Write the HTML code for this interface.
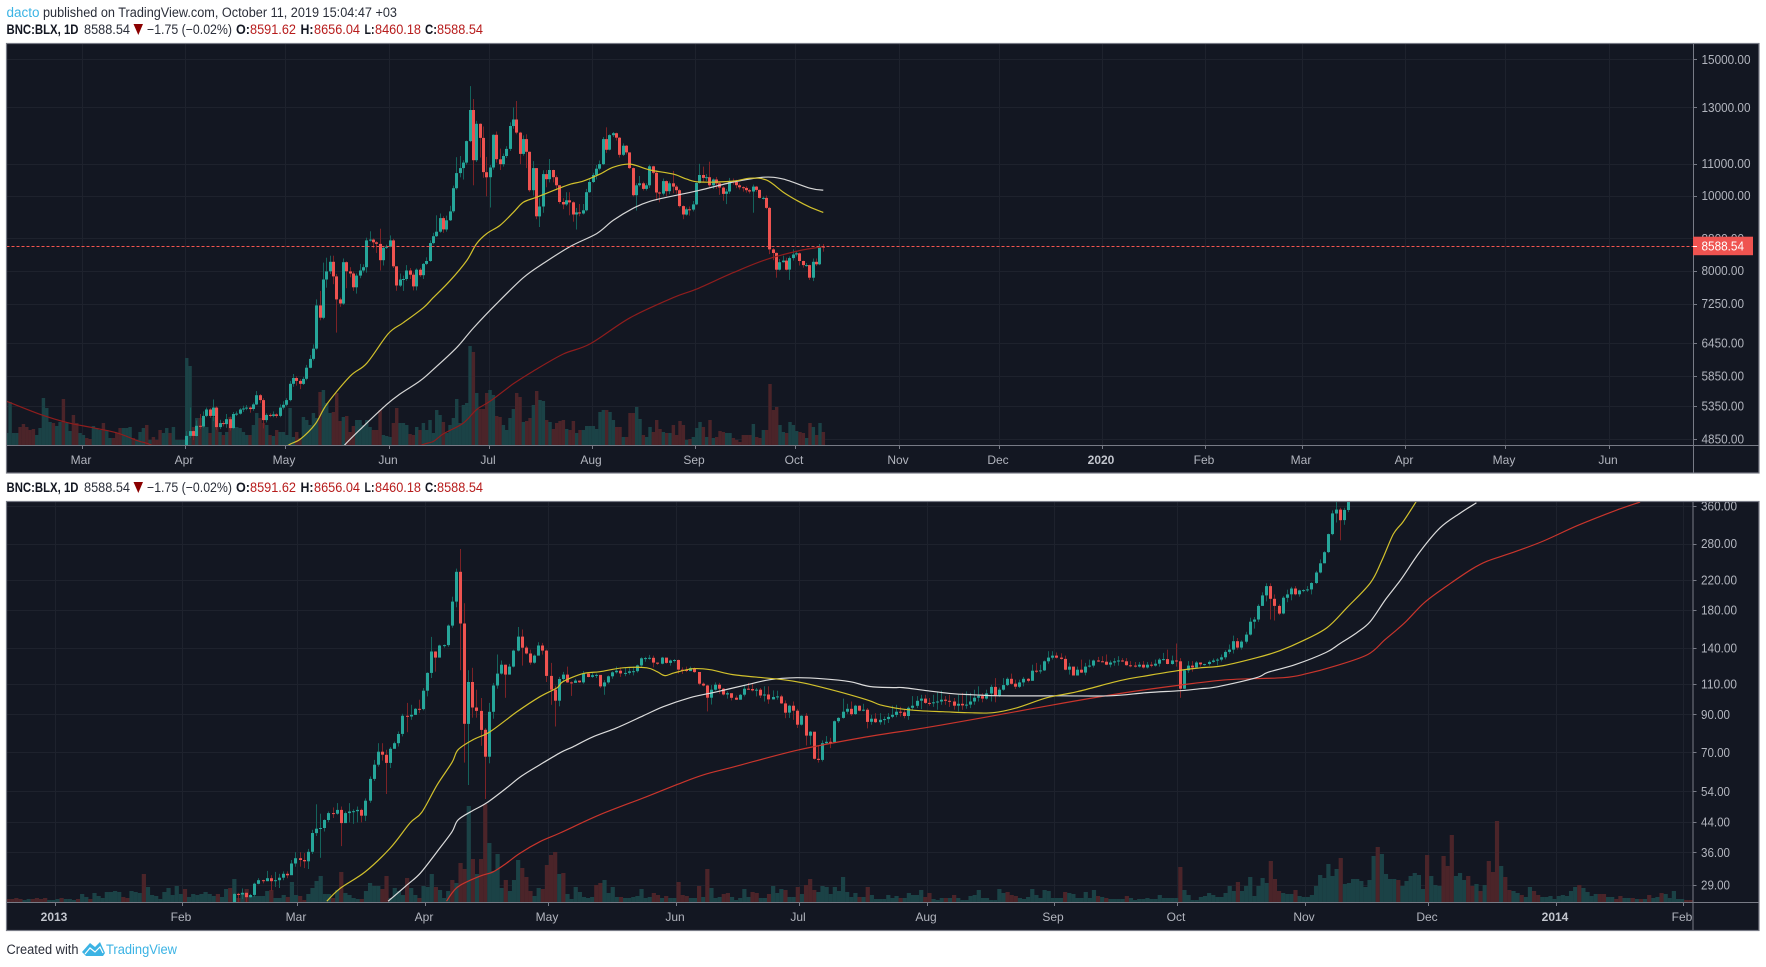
<!DOCTYPE html>
<html lang="en">
<head>
<meta charset="utf-8">
<title>BNC:BLX chart by dacto</title>
<style>
html,body{margin:0;padding:0;background:#fff;width:1766px;height:967px;overflow:hidden}
svg{display:block;font-family:"Liberation Sans",sans-serif}
</style>
</head>
<body>
<svg id="page" xmlns="http://www.w3.org/2000/svg" width="1766" height="967" viewBox="0 0 1766 967">
  <rect x="0" y="0" width="1766" height="967" fill="#ffffff"/>
  <g font-size="13.5">
    <text x="6.5" y="17" fill="#3bb3e4" textLength="33" lengthAdjust="spacingAndGlyphs">dacto</text>
    <text x="43" y="17" fill="#2a2e39" textLength="354" lengthAdjust="spacingAndGlyphs">published on TradingView.com, October 11, 2019 15:04:47 +03</text>
  </g>
  <g font-size="13.5">
    <text x="6.5" y="34" font-weight="bold" fill="#131722" textLength="72" lengthAdjust="spacingAndGlyphs">BNC:BLX, 1D</text>
    <text x="84" y="34" fill="#2a2e39" textLength="46" lengthAdjust="spacingAndGlyphs">8588.54</text>
    <polygon points="133.5,24 143,24 138.3,35" fill="#8b0000"/>
    <text x="147" y="34" fill="#2a2e39" textLength="85" lengthAdjust="spacingAndGlyphs">−1.75 (−0.02%)</text>
    <text x="236" y="34" font-weight="bold" fill="#131722" textLength="14" lengthAdjust="spacingAndGlyphs">O:</text>
    <text x="250" y="34" fill="#b71c1c" textLength="46" lengthAdjust="spacingAndGlyphs">8591.62</text>
    <text x="300.5" y="34" font-weight="bold" fill="#131722" textLength="13" lengthAdjust="spacingAndGlyphs">H:</text>
    <text x="314" y="34" fill="#b71c1c" textLength="46" lengthAdjust="spacingAndGlyphs">8656.04</text>
    <text x="364.5" y="34" font-weight="bold" fill="#131722" textLength="10" lengthAdjust="spacingAndGlyphs">L:</text>
    <text x="375" y="34" fill="#b71c1c" textLength="46" lengthAdjust="spacingAndGlyphs">8460.18</text>
    <text x="425" y="34" font-weight="bold" fill="#131722" textLength="12" lengthAdjust="spacingAndGlyphs">C:</text>
    <text x="437" y="34" fill="#b71c1c" textLength="46" lengthAdjust="spacingAndGlyphs">8588.54</text>
  </g>
  <g font-size="13.5">
    <text x="6.5" y="492" font-weight="bold" fill="#131722" textLength="72" lengthAdjust="spacingAndGlyphs">BNC:BLX, 1D</text>
    <text x="84" y="492" fill="#2a2e39" textLength="46" lengthAdjust="spacingAndGlyphs">8588.54</text>
    <polygon points="133.5,482 143,482 138.3,493" fill="#8b0000"/>
    <text x="147" y="492" fill="#2a2e39" textLength="85" lengthAdjust="spacingAndGlyphs">−1.75 (−0.02%)</text>
    <text x="236" y="492" font-weight="bold" fill="#131722" textLength="14" lengthAdjust="spacingAndGlyphs">O:</text>
    <text x="250" y="492" fill="#b71c1c" textLength="46" lengthAdjust="spacingAndGlyphs">8591.62</text>
    <text x="300.5" y="492" font-weight="bold" fill="#131722" textLength="13" lengthAdjust="spacingAndGlyphs">H:</text>
    <text x="314" y="492" fill="#b71c1c" textLength="46" lengthAdjust="spacingAndGlyphs">8656.04</text>
    <text x="364.5" y="492" font-weight="bold" fill="#131722" textLength="10" lengthAdjust="spacingAndGlyphs">L:</text>
    <text x="375" y="492" fill="#b71c1c" textLength="46" lengthAdjust="spacingAndGlyphs">8460.18</text>
    <text x="425" y="492" font-weight="bold" fill="#131722" textLength="12" lengthAdjust="spacingAndGlyphs">C:</text>
    <text x="437" y="492" fill="#b71c1c" textLength="46" lengthAdjust="spacingAndGlyphs">8588.54</text>
  </g>
  <g font-size="13.5">
    <text x="6.5" y="954" fill="#2a2e39" textLength="72" lengthAdjust="spacingAndGlyphs">Created with</text>
    <path d="M82 952 L90 943 L95 947 L100 942 L105 953 L103 956 L86 956 Z" fill="#3bb3e4"/>
    <path d="M85 954 L90 948 L95 952 L100 947 L103 953" fill="none" stroke="#ffffff" stroke-width="1.2"/>
    <text x="106" y="954" fill="#3bb3e4" textLength="71" lengthAdjust="spacingAndGlyphs">TradingView</text>
  </g>
</svg>
<script>
/* ===== TOP CHART DATA (2019) ===== */
const topFirstOpen = 4760;
const topCloses = [4890,4960,4890,5040,5030,5190,5290,5190,5320,5020,5080,5065,5140,5005,5220,5225,5290,5305,5320,5297,5370,5520,5440,5125,5205,5190,5213,5190,5320,5365,5440,5710,5810,5760,5710,5795,5990,6150,6340,7210,6950,7790,7980,8210,7860,7340,7250,8200,7980,7930,7610,7880,8000,8080,8750,8770,8700,8660,8250,8560,8590,8750,8100,7650,7790,7800,8000,7900,7630,8020,7890,8160,8230,8680,8860,8980,9350,9040,9290,9540,10220,10690,10850,11030,11760,12900,11110,12380,11870,10720,10560,10870,11980,11140,10980,11250,11490,12300,12540,12060,11320,11830,11390,10160,10850,9400,9680,10660,10500,10790,10560,10310,9810,9740,9860,9800,9450,9510,9480,9570,10100,10410,10630,10830,10980,11830,11460,11970,12040,11880,11290,11600,11370,10850,10010,10310,10370,10200,10310,10910,10700,10090,10060,10440,10130,10370,10270,10160,9690,9450,9600,9590,9740,10380,10630,10540,10560,10310,10490,10370,10240,10050,10120,10430,10410,10310,10250,10230,10160,10120,10270,10170,9930,9930,9640,8520,8430,8020,8200,8240,8020,8300,8390,8420,8230,8130,8130,7830,8210,8150,8590,8588.54];
const topHighs = [4960,5320,4970,5120,5220,5260,5320,5310,5450,5340,5130,5110,5220,5180,5250,5260,5310,5350,5360,5340,5400,5590,5540,5470,5230,5230,5260,5230,5370,5420,5470,5760,5880,5840,5790,5830,6040,6220,6420,7340,7530,8190,8310,8360,8360,7920,7380,8290,8220,8080,7980,7930,8160,8150,8820,8990,8800,8730,9060,8590,8640,8880,8790,8100,7930,7880,8130,8060,7950,8050,8060,8180,8320,8750,8950,9430,9480,9400,9420,9700,10300,11210,11250,11110,11780,13850,13330,12490,12400,12280,11220,10950,12000,12100,11500,11330,11580,12430,13000,13250,12090,11960,12000,11400,11080,10850,9920,10780,10790,11150,10800,10620,10320,9920,10100,10100,9830,9640,9750,9750,10200,10520,10700,10950,11100,11900,12250,12000,12080,12060,11900,11680,11620,11370,10870,10370,10600,10420,10370,10960,10930,10780,10120,10520,10460,10430,10760,10320,10200,9710,9650,9680,9840,10400,10990,10900,10660,11060,10520,10570,10400,10280,10200,10540,10520,10480,10370,10280,10280,10200,10330,10290,10180,9970,10000,9670,8550,8440,8280,8360,8310,8340,8520,8480,8440,8240,8180,8140,8290,8290,8656,8656];
const topLows = [4760,4860,4830,4880,4990,5010,5170,5160,5110,4980,4990,5030,5010,4970,4990,5190,5210,5250,5280,5240,5270,5360,5390,5000,5090,5170,5170,5160,5170,5290,5340,5420,5660,5680,5620,5690,5770,5980,6120,6320,6900,6920,7600,7920,7680,6650,7180,7220,7590,7840,7530,7470,7820,7950,7950,8720,8550,8430,8000,8120,8530,8570,8060,7530,7620,7530,7760,7800,7540,7540,7850,7800,8130,8210,8650,8840,8950,8950,8980,9270,9500,10180,10560,10490,10960,11720,10310,11050,11200,10540,9980,9650,10800,11030,10790,10900,11180,11420,12200,12000,10980,11260,10850,10110,10000,9320,9105,9500,10250,10400,10400,10160,9760,9600,9700,9430,9250,9040,9400,9450,9540,10080,10380,10490,10780,10950,11350,11440,11900,11780,11200,11250,11300,10820,9970,9560,10270,10150,10150,10230,10650,9860,9800,10000,9980,10040,10070,10060,9650,9320,9420,9420,9540,9720,10360,10420,10440,10250,10200,10200,10020,9850,9750,10050,10330,10220,10180,10120,10090,10060,9500,10110,9910,9880,9600,8400,8250,7830,8000,8190,8000,7780,8240,8340,8120,8070,8090,7780,7750,8110,8130,8460];
const topVolumeFirstDay = -54;
const topVolumes = [12,43,12,12,18,21,18,15,16,10,17,47,37,23,22,19,23,46,22,14,30,22,12,10,7,6,19,17,15,22,15,7,7,12,17,17,17,18,7,5,13,17,20,5,8,5,15,12,17,12,18,5,5,5,
87,79,18,27,27,20,18,12,28,37,13,10,13,28,18,18,17,13,10,10,20,32,27,22,20,10,9,15,13,13,10,37,8,13,7,28,25,20,32,27,53,55,42,32,33,52,24,28,29,13,19,25,25,20,25,18,15,15,35,10,9,8,22,37,22,22,20,11,10,18,15,22,15,25,12,35,30,23,12,20,27,46,22,40,42,99,93,52,36,36,52,55,50,29,28,20,15,27,36,52,48,23,24,27,40,54,45,44,25,23,16,22,24,25,16,15,24,12,15,15,19,19,19,16,33,35,35,33,25,18,18,8,8,32,32,38,26,10,8,18,13,25,16,13,12,12,20,10,24,20,5,6,8,17,23,18,8,25,7,8,14,13,12,12,7,5,3,10,10,10,21,8,7,15,15,61,35,38,20,13,12,23,20,14,13,12,7,22,18,10,22,13];
const topPreVolumeDownDays = [-50,-49,-48,-47,-46,-40,-37,-34,-33,-30,-29,-25,-22,-21,-20,-16,-12,-10,-9,-8,-5];
const topMa50Days = [25,30,34,38.5,42,49,54,60.5,65,71,74,79,84,87,90,94,98,101,105,111,115,119,124,128,133,139,146,150,154,164,169,174,179,183,187,191];
const topMa50 = [4500,4740,4840,5060,5370,5840,6070,6630,6850,7160,7380,7760,8240,8670,8930,9150,9510,9800,9950,10190,10340,10440,10660,10880,10980,10790,10660,10500,10410,10440,10530,10470,10100,9860,9660,9510];
const topMa100Days = [43,47,53,60,64,70,74,81,86,93,101,107,115,123,128,134,139,147,154,164,173,179,187,191];
const topMa100 = [4500,4740,5030,5370,5540,5760,5960,6360,6740,7250,7830,8170,8590,8930,9290,9630,9830,10010,10160,10410,10560,10500,10220,10160];
const topMa200Days = [-54,-44,-36,-28,-21,-15,-10,-5,66,70,74,77,83,87,91,98,104,113,121,133,146,153,164,174,184,191];
const topMa200 = [5420,5215,5090,5010,4935,4825,4740,4500,4500,4740,4810,4920,5080,5290,5420,5710,5930,6240,6430,6950,7380,7570,7950,8270,8490,8590];
const topPriceTicks = [15000,13000,11000,10000,8800,8000,7250,6450,5850,5350,4850];
const topPriceTickLabels = ["15000.00","13000.00","11000.00","10000.00","8800.00","8000.00","7250.00","6450.00","5850.00","5350.00","4850.00"];
const topTimeTickDays = [-31.4,-0.4,29.6,60.6,90.6,121.6,152.6,182.6,213.6,243.6,274.6,305.6,334.6,365.6,395.6,426.6];
const topTimeTickLabels = ["Mar","Apr","May","Jun","Jul","Aug","Sep","Oct","Nov","Dec","2020","Feb","Mar","Apr","May","Jun"];

/* ===== BOTTOM CHART DATA (2013) ===== */
const botFirstOpen = 25;
const botCloses = [27.3,27.2,27.5,26.7,27.1,29.2,29.9,29.7,30.3,29.7,29.9,30.4,31.2,30.9,33.4,34.6,34.2,33.9,36.1,40.9,42.1,42.3,44.6,46.7,46.5,47.7,43.7,46.7,47.2,47.3,47.7,45.9,50.7,58.6,64.4,70.2,68.8,65.2,71.6,74.3,79,89.1,88.7,89.7,93.4,93.2,105.3,118.5,136.6,131.2,142.2,142.6,162.3,190.3,232,164.6,84.5,111.6,94.2,92.1,81.2,67.9,91.5,109,118,125.2,117.2,123.6,137.5,150.9,140.2,134.8,126.9,133,142.2,137.5,116.2,106,98.5,113.8,
117.2,111.3,110.9,112.6,111.3,118,115.4,116.7,117,108.4,111.3,115.9,119,120.3,118.2,118.5,119.8,119.9,124.6,130.6,130.8,131,126.9,126,131.2,126.7,128.7,129.1,121.1,120.9,120,122.4,119.2,110.3,109,100.5,106,109.6,106.7,102.7,103.6,100.5,99.2,102.5,106.7,106.5,105.5,106,102,102.7,99.4,101,101.4,96.8,91,95.3,92.2,84,89.1,78.1,80.2,67,66.5,74.3,75,74.8,86,87.9,91.6,93.4,90.1,95.3,92.2,92.8,85.6,
87.4,85.4,86.8,87.2,88.5,89.7,91.6,91.2,89,94,95.3,98.5,99.9,97.1,96.9,97.5,98,99.2,98.5,98,95.3,96.5,95.5,96,98,100.5,101.6,99.9,103.4,108,101.6,106,109.3,114,110.3,108.1,111.3,114,112.5,120.3,120,120.5,128,131.2,133,131.2,130.1,121.1,123.6,116.5,121.1,118.8,123.6,124.4,128.7,128,127.7,125.2,127,128,128.7,128,124.7,124.4,123.6,125.2,122.9,125.2,124.4,126,129.5,129.9,125.7,128.7,128,106.7,120.5,124.4,122.9,127,
125.4,125.7,127.5,128.7,129.5,131.5,136.3,138.4,146.3,140.2,145.9,152.9,166.6,169,185,198.4,211,193.9,185,175.8,195.3,199.7,207.6,199.7,205,205.5,206.4,215.4,231,245.6,264.4,298,342,350.9,327,350,374];
const botHighs = [27.5,27.5,28.3,27.5,27.3,29.4,30.3,30,31.8,30.9,31.6,31.2,31.7,31.7,34.2,36,36,35.8,36.8,41.8,49.5,46.5,44.8,47.2,48.5,49.9,48.8,47.2,49.9,47.9,48.8,48.1,51.5,59.6,66.5,74.3,74.3,71.1,72.4,75.1,80.3,90.3,97.1,95.9,93.8,99.2,107.2,119,150.6,136.9,143,143.1,163.5,196.6,237,270,188.3,120.7,122.6,106,100.3,82.1,97.1,110.9,133.9,128.7,125.2,125.8,138.4,160.8,158.1,141.9,138.4,133.9,145.3,144.7,138.4,126.7,108.9,115.4,
119.3,123.6,112,114,112.6,120,119,118.5,118,115.6,113,116.5,119.8,123.6,123,123,123,123.6,125.2,131.5,131.8,133.6,133,127,131.8,130.8,129.5,129.9,129.5,123,123.6,123.6,122.9,119.2,111.3,109.6,109.3,111.3,110.9,107.2,104.8,101,102,103,109.6,110.9,110.9,107.2,107.2,108.4,108.4,105.5,105.3,102.5,98.7,95.9,98,93.4,89.5,90.7,80.6,79.6,73,75.7,77.9,77,86.4,88.3,99.9,96.5,98,95.9,95.5,96.5,93.9,
89.7,90.7,90.7,88.7,90.7,95.3,95.9,94.6,93.2,94.9,101.6,101.6,102.5,102.5,100.3,102.5,104.8,105.3,101.6,102.5,100.3,102.5,103.8,104.8,103.8,106,108.4,103.6,106,109.6,114.5,107.5,114.5,115,118,113.3,113.3,115.4,114.6,125.2,126.7,125.2,128.7,136.9,136.9,135.7,135,133,126.7,122.9,123.6,129.5,126.7,129.5,129.5,131.8,132.4,133.9,128.7,130.8,132.4,130.8,130.8,128.2,127.4,127.4,128.2,127.4,127.6,129.5,130.8,135.4,138.4,133,144.1,130.8,121.1,128.2,128.2,128.2,
126.7,126,128.7,130.4,130.8,133.9,137.8,143.1,151.9,149.5,147.2,155.7,171,171.8,187,202.5,215,215,199.7,187,197.3,206,210,211,206,206.6,211,216.5,233.6,252,266,299,349,374,355,355,382];
const botLows = [25,25.4,26.4,25.8,26.6,26.8,29.1,29.3,29.7,27.9,28.6,28.4,29.9,30.3,31.1,32.7,32.7,32.4,32.2,35.6,40.1,34.7,41.3,44,45.2,46.2,37.5,44.1,43.9,43.5,43.9,43.9,44.3,50,57.8,63.6,66.2,53,63,71.9,72.7,77.7,79.9,86.8,89.7,90.7,92.4,101.4,114.6,119.5,133.9,140.2,141,160,183.3,120.7,65.3,56.3,88,88,73,51.3,65,87.4,106.7,117.2,100.5,117.2,123,136.6,124.4,133.9,125.2,126,133.9,133.9,111.6,95.9,83,94.9,
112.6,110.9,101.7,111.3,110.9,110.3,115,114.6,114.6,107.2,102.5,110.3,114,118,115.4,115.9,117.2,116.6,118.8,123.6,127.7,129.5,123,125,125.5,126,124.4,127,118,117.7,119.2,120,118.5,109.2,108.4,91.8,96.1,105.3,103.2,102,99.9,98.7,99,99.2,101.4,106,104.8,101.4,100.3,98,96.5,99.4,99.2,96.5,87.7,87.9,86.8,82.2,83.6,73.2,73.5,66.6,65.3,65.8,74,71.9,74.8,85,87.4,90.3,89.1,89.7,91.8,91.8,82,
84,85,84,84,85,87.7,88.3,88.7,87.7,86.8,92.8,93.8,93.2,96.5,95.3,94.6,92.8,95.9,95.9,94.6,92.8,91.8,92.8,93.4,93.8,95.9,98,97.5,99.2,98,97.5,101,105.3,108.6,109.6,106.5,107.2,108.4,111.3,112.6,118.5,118,120,126,129.5,130.4,129.5,120.6,117.2,116.5,116.5,118.5,116.7,122.9,122.9,127.5,127.5,124.7,122.9,124.4,124.4,127.5,124.4,123,122.8,122.8,122,122,123,123.6,123.6,128.7,125.5,125.2,123.6,100.5,106.5,118.5,119.5,122.9,
123.6,124.4,124.4,126.7,124.7,127.9,129.7,134.5,134.9,138.4,138.4,144.1,151.9,159.1,166.4,185,190.7,169,167.9,174,175,189.6,192,198.4,196.7,202.5,203,199.7,214,229.6,245.6,262.7,296,322,286,317,345];
const botVolumeFirstDay = -55;
const botVolumes = [3,3,4,3,2,3,3,4,3,4,2,2,3,4,3,3,2,3,8,5,3,9,6,4,10,10,11,10,5,4,11,10,9,28,15,7,6,3,10,14,7,16,8,13,5,8,7,8,10,8,6,8,
5,13,14,23,4,9,13,6,6,6,6,11,12,4,4,7,5,20,7,6,2,8,14,21,26,8,8,4,12,30,9,7,4,3,3,11,19,16,16,13,26,4,14,11,7,24,14,7,4,16,15,28,15,12,4,11,22,19,39,33,96,43,28,43,98,59,31,48,14,22,11,22,42,34,25,11,6,14,13,37,47,50,28,
29,8,3,15,10,5,4,5,17,19,
22,9,15,5,5,4,4,5,6,13,4,5,9,7,4,6,4,4,20,7,6,4,4,16,5,33,14,4,5,8,9,5,2,4,13,5,10,9,4,4,8,16,9,13,12,5,5,15,8,17,23,12,10,16,15,8,15,11,25,10,5,9,5,5,15,7,3,3,3,7,4,6,4,4,9,7,7,12,5,9,3,2,4,4,4,7,4,2,2,6,7,12,4,4,2,2,13,9,10,7,6,4,3,5,13,7,4,12,11,4,4,4,10,9,8,4,4,10,4,12,6,5,4,3,3,3,3,6,4,2,3,3,4,3,3,7,4,4,4,4,
35,12,7,2,2,5,6,9,7,5,5,9,16,11,20,11,16,25,6,16,24,19,41,23,11,9,8,8,12,6,5,5,7,16,27,24,38,26,33,44,18,19,23,23,21,15,22,46,55,48,28,23,23,22,16,21,26,29,27,13,47,26,17,16,46,36,67,26,29,22,26,16,18,11,17,41,30,81,36,25,12,11,9,7,5,15,11,7,5,5,6,3,6,7,6,11,15,17,14,10,6,8,8,8,5,5,3,6,4,4,4,3,3,3,7,4,5,9,8,4,11,3,3,2,2];
const botVolumeDownDays = [-55,-54,-53,-52,-49,-48,-47,-46,-42,-38,-35,-27,-26,-22,-12,-4,-1,1,3,9,13,16,17,24,26,31,36,37,42,45,49,53,55,56,58,60,61,66,70,71,72,75,76,77,78,80,88,89,94,102,103,105,108,109,110,113,115,119,120,126,127,130,134,137,139,140,141,152,154,162,168,169,173,175,188,189,190,202,210,212,217,230,244,252,253,254,258,269,278,283,290,294,295,296,300,301,303,305,306,307,309,310,313,316,317,327,332,333,336,337,340,342,344,347,353,354];
const botMa50Days = [22.5,25.7,31.8,37.9,42.7,45.6,49.3,52.9,54.4,58,62.2,68.7,74.3,78.5,79.9,84.8,88.9,94.5,100.3,102.8,104.7,107.1,111.5,115.7,121.2,128.5,133.4,138.2,143.1,149.7,154.5,157,161.9,166.7,172.3,178.2,184.5,190.3,197.6,204.9,215.4,222,229.3,234.9,240.5,248.7,254.3,259.9,265.7,270.6,276.2,278.9,281.8,284.2,287.6];
const botMa50 = [26,28.3,31.6,37,43.7,47,56.3,65.3,71.1,76,80.2,91.5,101.2,107.4,111.8,118,119.5,122.6,122.6,119.5,116.4,118.7,121.9,121.1,117.2,114.8,113.3,111,107.5,102.5,98.5,95.9,93.4,92.2,91.6,91,91,94,100.5,104.6,112.6,116.4,120.3,122.6,124.4,131.2,137.5,146.9,160.2,183.3,215.4,248.4,298,324,374];
const botMa100Days = [37.4,41.9,45.2,49.2,52.9,54.4,58,61.4,66.2,69.9,74.3,79.2,82.3,87.2,93,99.4,104.2,110.8,117.4,124.7,130.2,136.8,143.1,149.7,154.5,160.2,162.6,168.4,174.7,179.6,186.2,200.8,212.9,222,230,234.9,239,248.5,251.3,257.9,265.4,268.8,273,276.2,279.9,283.7,288.3,293.2,298.1,302];
const botMa100 = [26,28.9,31.3,36,41.2,44.6,47.5,50,55.2,59.8,64.4,69.7,72.5,77.5,82.3,89.1,94.6,100.5,104.6,109.6,113.3,114.8,114,111.8,108.3,107.5,107.5,105.3,103.2,102.5,101.8,101.8,101.8,104,105.3,106.7,108.1,114.8,119,125.2,135.7,144,155,166.8,193,221,265.6,311,343,367];
const botMa200Days = [51.6,53.2,54.9,59.7,62.9,66.2,69.5,74.3,79.2,88.9,100.1,107.4,114,121.5,137.3,154.1,167.9,182,199.2,216.3,229,241.6,255,260.8,267.4,275.6,279.8,284.6,289.4,295.1,300.8,304.6,310.4,318,326.7,336.2,341.8];
const botMa200 = [26,27.7,28.9,30.7,31.6,33.5,35.8,38.6,40.9,46.2,52,56.3,60.2,63.5,71.1,77.6,82.3,88,95.9,103.8,108.9,113.3,114.8,118,123.8,133.9,147.9,165.6,189.4,212.4,236,249,262.7,283.7,316,350,369];
const botPriceTicks = [360,280,220,180,140,110,90,70,54,44,36,29];
const botPriceTickLabels = ["360.00","280.00","220.00","180.00","140.00","110.00","90.00","70.00","54.00","44.00","36.00","29.00"];
const botTimeTickDays = [-43.7,-12.7,15.3,46.3,76.3,107.3,137.3,168.3,199.3,229.3,260.3,290.3,321.3,352.3];
const botTimeTickLabels = ["2013","Feb","Mar","Apr","May","Jun","Jul","Aug","Sep","Oct","Nov","Dec","2014","Feb"];

/* ===== AXIS FUNCTIONS ===== */
const xTop = d => 186.7 + 3.333 * d;
const yTop = p => 59.3 + 336 * Math.log(15000 / p);
const xBot = d => 234.3 + 4.113 * d;
const yBot = p => 505.7 + 150.5 * Math.log(360 / p);

const NS = 'http://www.w3.org/2000/svg';
const root = document.getElementById('page');
function make(tag, attrs, parent, text) {
  const e = document.createElementNS(NS, tag);
  for (const k in attrs) e.setAttribute(k, attrs[k]);
  if (text !== undefined) e.textContent = text;
  (parent || root).appendChild(e);
  return e;
}
function labelWidth(s) {
  return s.length === 8 ? 49 : s.length === 7 ? 42.5 : s.length === 6 ? 36 : 29;
}
/* smooth curve through the points read from the series arrays */
function smoothPath(pts) {
  let d = 'M' + pts[0][0].toFixed(1) + ' ' + pts[0][1].toFixed(1);
  for (let i = 0; i < pts.length - 1; i++) {
    const p0 = pts[Math.max(0, i - 1)], p1 = pts[i], p2 = pts[i + 1], p3 = pts[Math.min(pts.length - 1, i + 2)];
    const c1x = p1[0] + (p2[0] - p0[0]) / 6, c1y = p1[1] + (p2[1] - p0[1]) / 6;
    const c2x = p2[0] - (p3[0] - p1[0]) / 6, c2y = p2[1] - (p3[1] - p1[1]) / 6;
    d += ' C' + c1x.toFixed(1) + ' ' + c1y.toFixed(1) + ' ' + c2x.toFixed(1) + ' ' + c2y.toFixed(1) + ' ' + p2[0].toFixed(1) + ' ' + p2[1].toFixed(1);
  }
  return d;
}

function drawChart(c) {
  const group = make('g', {});
  
  

  const bg = make('rect', {x: c.left, y: c.top, width: c.right - c.left, height: c.bottom - c.top, fill: '#131722'}, group);
  
  

  const defs = make('defs', {}, group);
  const clip = make('clipPath', {id: c.name + '-clip'}, defs);
  make('rect', {x: c.left, y: c.top, width: c.axisX - c.left, height: c.axisY - c.top}, clip);

  /* grid */
  const grid = make('g', {stroke: '#1e222d', 'stroke-width': 1}, group);
  
  
  c.priceTicks.forEach(p => {
    const y = Math.round(c.y(p)) + 0.5;
    if (y < c.top) return;
    const l = make('line', {x1: c.left, x2: c.axisX, y1: y, y2: y}, grid);
    
    
  });
  c.timeTicks.forEach(d => {
    const x = Math.round(c.x(d)) + 0.5;
    const l = make('line', {x1: x, x2: x, y1: c.top, y2: c.axisY}, grid);
    
    
  });

  const plot = make('g', {'clip-path': 'url(#' + c.name + '-clip)'}, group);
  
  

  /* volume */
  const volumeGroup = make('g', {}, plot);
  
  
  const step = c.x(1) - c.x(0);
  c.volumes.forEach((v, i) => {
    const d = c.volumeFirstDay + i;
    const x0 = c.x(d) - step / 2;
    const r = make('rect', {x: x0.toFixed(2), y: c.axisY - v, width: (step + 0.1).toFixed(2), height: v, fill: c.volumeDown(d) ? '#4b2429' : '#1b4246'}, volumeGroup);
    
    
  });

  /* candles */
  const candleGroup = make('g', {}, plot);
  
  
  c.closes.forEach((close, i) => {
    const open = i === 0 ? c.firstOpen : c.closes[i - 1];
    const up = close >= open;
    const bx = Math.round(c.x(i) - 1.5);
    const hi = c.y(c.highs[i]), lo = c.y(c.lows[i]);
    const w = make('rect', {x: bx + 1, y: hi.toFixed(1), width: 1, height: Math.max(1, lo - hi).toFixed(1), fill: up ? '#14635c' : '#7c2226'}, candleGroup);
    
    
    const t = c.y(Math.max(open, close)), b = c.y(Math.min(open, close));
    const body = make('rect', {x: bx, y: t.toFixed(1), width: 3, height: Math.max(1, b - t).toFixed(1), fill: up ? '#26a69a' : '#ef5350'}, candleGroup);
    
    
  });

  /* moving averages */
  c.mas.forEach(m => {
    const pts = m.days.map((d, i) => [c.x(d), c.y(m.values[i])]);
    const line = make('path', {d: smoothPath(pts), fill: 'none', stroke: m.color, 'stroke-width': 1.2, 'stroke-linejoin': 'round'}, plot);
    
    
  });

  /* last-price line */
  if (c.lastPrice) {
    const y = Math.floor(c.y(c.lastPrice)) + 0.5;
    const dash = make('line', {x1: c.left, x2: c.axisX, y1: y, y2: y, stroke: '#f4554f', 'stroke-width': 1, 'stroke-dasharray': '3 2'}, group);
    
    
  }

  /* axis lines */
  const hAxis = make('line', {x1: c.left, x2: c.right, y1: c.axisY + 0.5, y2: c.axisY + 0.5, stroke: '#787b86', 'stroke-width': 1}, group);
  
  
  const vAxis = make('line', {x1: c.axisX + 0.5, x2: c.axisX + 0.5, y1: c.top, y2: c.bottom, stroke: '#787b86', 'stroke-width': 1}, group);
  
  

  /* price axis */
  const priceClip = make('clipPath', {id: c.name + '-price-clip'}, defs);
  make('rect', {x: c.axisX, y: c.top, width: c.right - c.axisX, height: c.axisY - c.top}, priceClip);
  const priceAxis = make('g', {'clip-path': 'url(#' + c.name + '-price-clip)', 'font-size': 13, fill: '#b2b5be'}, group);
  
  
  c.priceTicks.forEach((p, i) => {
    const y = c.y(p);
    const tick = make('line', {x1: c.axisX, x2: c.axisX + 4, y1: Math.round(y) + 0.5, y2: Math.round(y) + 0.5, stroke: '#787b86'}, priceAxis);
    
    
    const s = c.priceLabels[i];
    const t = make('text', {x: c.axisX + 8.5, y: (y + 4.6).toFixed(1), textLength: labelWidth(s), lengthAdjust: 'spacingAndGlyphs'}, priceAxis, s);
    
    
  });

  /* time axis */
  const timeAxis = make('g', {'font-size': 12, fill: '#b2b5be', 'text-anchor': 'middle'}, group);
  
  
  c.timeTicks.forEach((d, i) => {
    const x = Math.round(c.x(d)) + 0.5;
    const tick = make('line', {x1: x, x2: x, y1: c.axisY, y2: c.axisY + 4, stroke: '#787b86'}, timeAxis);
    
    
    const s = c.timeLabels[i];
    const attrs = {x: x - 1.5, y: c.axisY + 19};
    if (/^\d/.test(s)) { attrs['font-weight'] = 'bold'; attrs.fill = '#c3c6ce'; }
    const t = make('text', attrs, timeAxis, s);
    
    
  });

  /* last-price badge */
  if (c.lastPrice) {
    const y = c.y(c.lastPrice);
    const box = make('rect', {x: c.axisX, y: (y - 10).toFixed(1), width: 60, height: 18.5, fill: '#ef5350'}, group);
    
    
    const w = make('line', {x1: c.axisX, x2: c.axisX + 4, y1: Math.floor(y) + 0.5, y2: Math.floor(y) + 0.5, stroke: '#ffffff'}, group);
    
    
    const t = make('text', {x: c.axisX + 8.5, y: (y + 4).toFixed(1), 'font-size': 13, fill: '#ffffff', textLength: 42.5, lengthAdjust: 'spacingAndGlyphs'}, group, c.lastPrice.toFixed(2));
    
    
  }

  /* frame */
  const frame = make('rect', {x: c.left, y: c.top, width: c.right - c.left, height: c.bottom - c.top, fill: 'none', stroke: '#787b86', 'stroke-width': 1.2}, group);
  
  
}

drawChart({
  name: 'top', left: 6.5, right: 1759, top: 43.5, bottom: 473, axisX: 1693, axisY: 445,
  x: xTop, y: yTop,
  firstOpen: topFirstOpen, closes: topCloses, highs: topHighs, lows: topLows,
  volumes: topVolumes, volumeFirstDay: topVolumeFirstDay,
  volumeDown: d => d < 0 ? topPreVolumeDownDays.includes(d) : topCloses[d] < (d === 0 ? topFirstOpen : topCloses[d - 1]),
  mas: [
    {name: 'ma-200-line', days: topMa200Days, values: topMa200, color: '#8f1d1d'},
    {name: 'ma-100-line', days: topMa100Days, values: topMa100, color: '#d6d6d6'},
    {name: 'ma-50-line', days: topMa50Days, values: topMa50, color: '#d2c12c'}
  ],
  priceTicks: topPriceTicks, priceLabels: topPriceTickLabels,
  timeTicks: topTimeTickDays, timeLabels: topTimeTickLabels,
  lastPrice: topCloses[topCloses.length - 1]
});

drawChart({
  name: 'bottom', left: 6.5, right: 1759, top: 501.5, bottom: 930.5, axisX: 1692.5, axisY: 902,
  x: xBot, y: yBot,
  firstOpen: botFirstOpen, closes: botCloses, highs: botHighs, lows: botLows,
  volumes: botVolumes, volumeFirstDay: botVolumeFirstDay,
  volumeDown: d => botVolumeDownDays.includes(d),
  mas: [
    {name: 'ma-200-line', days: botMa200Days, values: botMa200, color: '#c9352c'},
    {name: 'ma-100-line', days: botMa100Days, values: botMa100, color: '#dcdcdc'},
    {name: 'ma-50-line', days: botMa50Days, values: botMa50, color: '#d2c12c'}
  ],
  priceTicks: botPriceTicks, priceLabels: botPriceTickLabels,
  timeTicks: botTimeTickDays, timeLabels: botTimeTickLabels,
  lastPrice: null
});
</script>
</body>
</html>
